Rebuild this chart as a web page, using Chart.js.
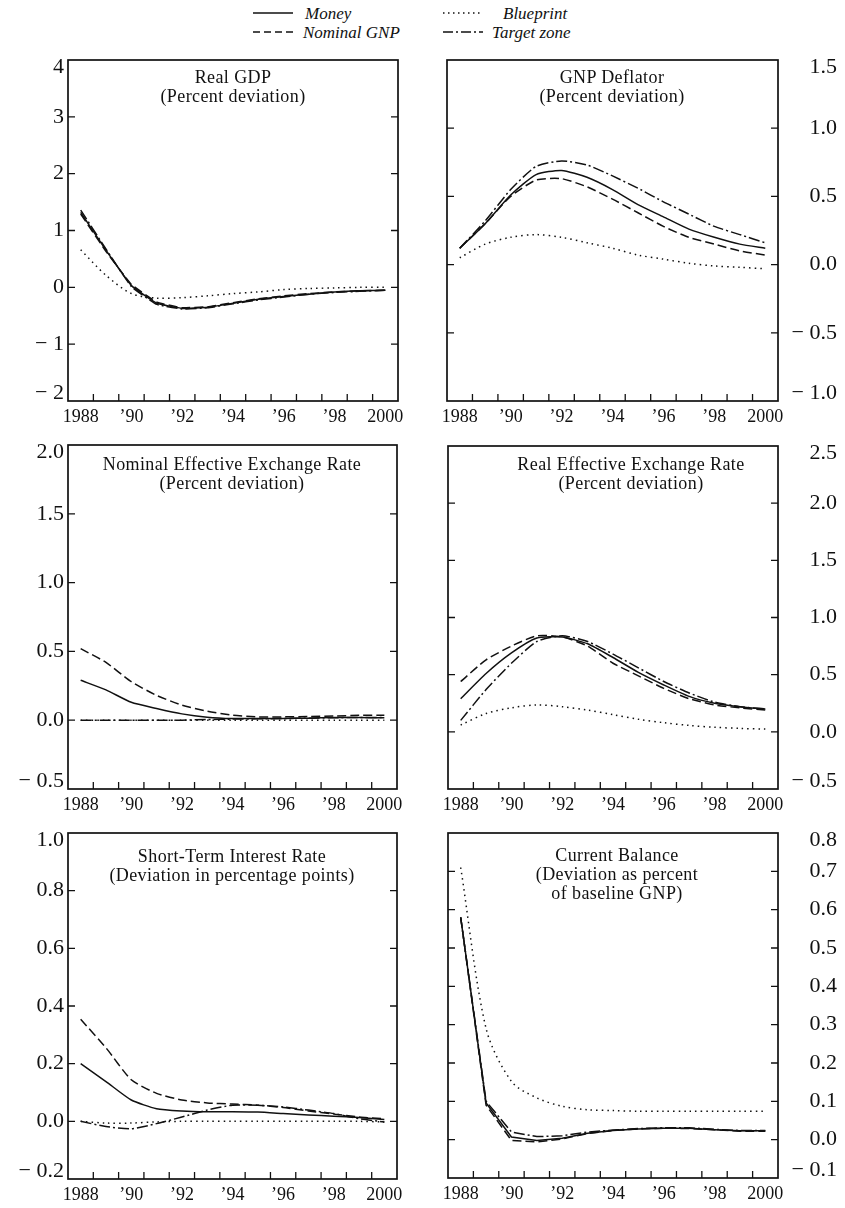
<!DOCTYPE html>
<html>
<head>
<meta charset="utf-8">
<script src="https://cdn.jsdelivr.net/npm/chart.js@4/dist/chart.umd.min.js"></script>
<style>
html,body{margin:0;padding:0;background:#fff;}
#page{position:relative;width:845px;height:1208px;overflow:hidden;background:#fff;font-family:"Liberation Serif","Times New Roman",serif;color:#111;}
.panel{position:absolute;}
.panel canvas{display:block;}
.ttl{position:absolute;text-align:center;font-size:18px;letter-spacing:0.4px;line-height:19px;white-space:nowrap;transform:translateX(-50%);}
.leg{position:absolute;font-style:italic;font-size:17px;line-height:19px;white-space:nowrap;}
#legsvg{position:absolute;left:250px;top:0;}
</style>
</head>
<body>
<div id="page">
  <svg id="legsvg" width="250" height="45" xmlns="http://www.w3.org/2000/svg">
    <line x1="3" y1="13" x2="43" y2="13" stroke="#111" stroke-width="1.6"/>
    <line x1="3" y1="32" x2="43" y2="32" stroke="#111" stroke-width="1.6" stroke-dasharray="7 4"/>
    <line x1="193" y1="13" x2="233" y2="13" stroke="#111" stroke-width="1.6" stroke-dasharray="1.5 3.5"/>
    <line x1="193" y1="32" x2="233" y2="32" stroke="#111" stroke-width="1.6" stroke-dasharray="10 3 2 3"/>
  </svg>
  <div class="leg" style="left:305px;top:4px;">Money</div>
  <div class="leg" style="left:303px;top:23px;">Nominal GNP</div>
  <div class="leg" style="left:503px;top:4px;">Blueprint</div>
  <div class="leg" style="left:492px;top:23px;">Target zone</div>
</div>
<script>
// ---------- DATA ----------
const years = ['1988','1989','1990','1991','1992','1993','1994','1995','1996','1997','1998','1999','2000'];
const yearTickLabels = ['1988','','\u201990','','\u201992','','\u201994','','\u201996','','\u201998','','2000'];

// Real GDP (percent deviation)
const gdpMoney     = [1.32, 0.65, 0.03, -0.28, -0.37, -0.35, -0.28, -0.21, -0.16, -0.12, -0.08, -0.06, -0.05];
const gdpNominal   = [1.29, 0.63, 0.05, -0.26, -0.36, -0.34, -0.27, -0.20, -0.15, -0.11, -0.08, -0.06, -0.05];
const gdpBlueprint = [0.66, 0.21, -0.11, -0.19, -0.18, -0.15, -0.11, -0.08, -0.04, -0.02, -0.01, 0.00, 0.00];
const gdpTarget    = [1.36, 0.67, 0.01, -0.30, -0.38, -0.36, -0.29, -0.22, -0.17, -0.12, -0.09, -0.07, -0.05];

// GNP deflator (percent deviation)
const defMoney     = [0.12, 0.30, 0.51, 0.66, 0.69, 0.64, 0.55, 0.44, 0.35, 0.26, 0.20, 0.15, 0.12];
const defNominal   = [0.12, 0.30, 0.50, 0.62, 0.63, 0.57, 0.48, 0.38, 0.28, 0.20, 0.15, 0.10, 0.07];
const defBlueprint = [0.05, 0.15, 0.20, 0.22, 0.20, 0.16, 0.12, 0.07, 0.04, 0.01, -0.01, -0.02, -0.03];
const defTarget    = [0.12, 0.32, 0.55, 0.72, 0.76, 0.73, 0.65, 0.56, 0.46, 0.37, 0.28, 0.22, 0.16];

// Nominal effective exchange rate (percent deviation)
const neerMoney     = [0.29, 0.22, 0.13, 0.085, 0.046, 0.022, 0.012, 0.012, 0.012, 0.015, 0.020, 0.020, 0.017];
const neerNominal   = [0.52, 0.42, 0.28, 0.18, 0.11, 0.065, 0.036, 0.024, 0.024, 0.027, 0.030, 0.036, 0.036];
const neerBlueprint = [0, 0, 0, 0, 0, 0, 0, 0, 0, 0, 0, 0, 0];
const neerTarget    = [0, 0, 0, 0, 0, 0.005, 0.008, 0.010, 0.012, 0.015, 0.018, 0.020, 0.020];

// Real effective exchange rate (percent deviation)
const reerMoney     = [0.29, 0.51, 0.69, 0.82, 0.83, 0.77, 0.65, 0.52, 0.41, 0.31, 0.25, 0.22, 0.20];
const reerNominal   = [0.44, 0.63, 0.75, 0.84, 0.83, 0.75, 0.60, 0.49, 0.38, 0.29, 0.235, 0.21, 0.19];
const reerBlueprint = [0.06, 0.16, 0.21, 0.235, 0.22, 0.19, 0.15, 0.11, 0.08, 0.056, 0.04, 0.03, 0.024];
const reerTarget    = [0.10, 0.37, 0.60, 0.79, 0.84, 0.79, 0.68, 0.56, 0.44, 0.34, 0.26, 0.22, 0.20];

// Short-term interest rate (deviation in percentage points)
const strMoney     = [0.20, 0.138, 0.074, 0.044, 0.036, 0.033, 0.033, 0.032, 0.027, 0.022, 0.018, 0.013, 0.006];
const strNominal   = [0.354, 0.255, 0.144, 0.097, 0.074, 0.064, 0.060, 0.056, 0.048, 0.036, 0.025, 0.015, 0.009];
const strBlueprint = [0, -0.006, -0.006, -0.002, 0, 0, 0, 0, 0, 0, 0, 0, -0.002];
const strTarget    = [0, -0.018, -0.026, -0.008, 0.015, 0.039, 0.056, 0.056, 0.050, 0.039, 0.027, 0.009, -0.002];

// Current balance (deviation as percent of baseline GNP)
const cbMoney     = [0.58, 0.096, 0.007, -0.002, 0.004, 0.017, 0.024, 0.028, 0.030, 0.030, 0.026, 0.023, 0.023];
const cbNominal   = [0.58, 0.090, -0.002, -0.006, 0.002, 0.016, 0.024, 0.028, 0.030, 0.029, 0.026, 0.022, 0.022];
const cbBlueprint = [0.71, 0.29, 0.152, 0.109, 0.087, 0.078, 0.076, 0.074, 0.074, 0.074, 0.074, 0.074, 0.074];
const cbTarget    = [0.58, 0.100, 0.020, 0.008, 0.010, 0.020, 0.025, 0.029, 0.031, 0.031, 0.027, 0.024, 0.024];

const seriesNames = ['Money', 'Nominal GNP', 'Blueprint', 'Target zone'];

// ---------- STYLES ----------
const INK = '#111';
const dashes = { 'Money': [], 'Nominal GNP': [9, 4], 'Blueprint': [1.5, 4], 'Target zone': [11, 3, 2, 3] };

const framePlugin = {
  id: 'frame',
  afterDraw(chart) {
    const { ctx, chartArea: a, scales } = chart;
    const L = 7;
    ctx.save();
    ctx.strokeStyle = INK;
    ctx.lineWidth = 1.7;
    ctx.setLineDash([]);
    ctx.strokeRect(a.left, a.top, a.right - a.left, a.bottom - a.top);
    ctx.lineWidth = 1.3;
    ctx.beginPath();
    const ys = scales.y;
    ys.ticks.forEach((t, i) => {
      const p = ys.getPixelForTick(i);
      if (Math.abs(p - a.top) < 2 || Math.abs(p - a.bottom) < 2) return;
      ctx.moveTo(a.left, p); ctx.lineTo(a.left + L, p);
      ctx.moveTo(a.right - L, p); ctx.lineTo(a.right, p);
    });
    const xs = scales.x;
    for (let i = 0; i < xs.ticks.length - 1; i++) {
      const p = (xs.getPixelForTick(i) + xs.getPixelForTick(i + 1)) / 2;
      ctx.moveTo(p, a.bottom); ctx.lineTo(p, a.bottom - L);
    }
    ctx.stroke();
    ctx.restore();
  }
};

function fmt(v, d) {
  if (Math.abs(v) < 1e-9) v = 0;
  const s = Math.abs(v).toFixed(d);
  return v < 0 ? '\u2212 ' + s : s;
}

const page = document.getElementById('page');

function makePanel(cfg) {
  const isRight = cfg.side === 'R';
  const cLeft = isRight ? 420 : 0;
  const cWidth = isRight ? 425 : 420;
  const padTop = 26, xH = 30;
  const cTop = cfg.top - padTop;
  const cHeight = cfg.bottom - cfg.top + padTop + xH;

  const wrap = document.createElement('div');
  wrap.className = 'panel';
  wrap.style.left = cLeft + 'px';
  wrap.style.top = cTop + 'px';
  wrap.style.width = cWidth + 'px';
  wrap.style.height = cHeight + 'px';
  const canvas = document.createElement('canvas');
  canvas.width = cWidth; canvas.height = cHeight;
  canvas.style.width = cWidth + 'px'; canvas.style.height = cHeight + 'px';
  wrap.appendChild(canvas);
  page.appendChild(wrap);

  const ttl = document.createElement('div');
  ttl.className = 'ttl';
  ttl.style.left = cfg.titleX + 'px';
  ttl.style.top = cfg.titleY + 'px';
  ttl.innerHTML = cfg.title.join('<br>');
  page.appendChild(ttl);

  const datasets = seriesNames.map((name, k) => ({
    label: name,
    data: cfg.series[k],
    borderColor: INK,
    backgroundColor: INK,
    borderWidth: 1.5,
    borderDash: dashes[name],
    pointRadius: 0,
    fill: false,
    tension: cfg.tension[k],
    order: k === 0 ? 0 : 1
  }));

  new Chart(canvas, {
    type: 'line',
    data: { labels: yearTickLabels, datasets },
    options: {
      responsive: false,
      animation: false,
      events: [],
      layout: { padding: { left: isRight ? cfg.left - 420 : 0, right: isRight ? 8 : 420 - cfg.right, top: padTop, bottom: 0 } },
      plugins: { legend: { display: false }, tooltip: { enabled: false }, title: { display: false } },
      scales: {
        x: {
          type: 'category',
          offset: true,
          grid: { display: false, drawTicks: false },
          border: { display: false },
          ticks: {
            autoSkip: false, maxRotation: 0, minRotation: 0, padding: 5, color: INK,
            font: { family: 'Liberation Serif', size: 18 }
          },
          afterFit(s) { s.height = xH; }
        },
        y: {
          type: 'linear',
          position: isRight ? 'right' : 'left',
          min: cfg.min, max: cfg.max,
          grid: { display: false, drawTicks: false },
          border: { display: false },
          ticks: {
            stepSize: cfg.step, padding: 4, color: INK,
            crossAlign: isRight ? 'far' : 'near',
            font: { family: 'Liberation Serif', size: 22, lineHeight: 0.67 },
            callback(v, i, ts) {
              const s = fmt(v, cfg.dec);
              if (i === 0) return [s, ''];
              if (i === ts.length - 1) return ['', s];
              return s;
            }
          },
          afterFit(s) { s.width = isRight ? (837 - cfg.right) : cfg.left; }
        }
      }
    },
    plugins: [framePlugin]
  });
}

const TS = [0.2, 0.2, 0.3, 0.2];

makePanel({ side: 'L', left: 68, top: 60, right: 398, bottom: 401, min: -2, max: 4, step: 1, dec: 0,
  title: ['Real GDP', '(Percent deviation)'], titleX: 233, titleY: 68,
  series: [gdpMoney, gdpNominal, gdpBlueprint, gdpTarget], tension: [0.1, 0.1, 0.3, 0.1] });
makePanel({ side: 'R', left: 447, top: 60, right: 778, bottom: 401, min: -1, max: 1.5, step: 0.5, dec: 1,
  title: ['GNP Deflator', '(Percent deviation)'], titleX: 612, titleY: 68,
  series: [defMoney, defNominal, defBlueprint, defTarget], tension: TS });
makePanel({ side: 'L', left: 68, top: 445, right: 397, bottom: 789, min: -0.5, max: 2.0, step: 0.5, dec: 1,
  title: ['Nominal Effective Exchange Rate', '(Percent deviation)'], titleX: 232, titleY: 455,
  series: [neerMoney, neerNominal, neerBlueprint, neerTarget], tension: TS });
makePanel({ side: 'R', left: 448, top: 446, right: 778, bottom: 789, min: -0.5, max: 2.5, step: 0.5, dec: 1,
  title: ['Real Effective Exchange Rate', '(Percent deviation)'], titleX: 631, titleY: 455,
  series: [reerMoney, reerNominal, reerBlueprint, reerTarget], tension: TS });
makePanel({ side: 'L', left: 68, top: 833, right: 397, bottom: 1179, min: -0.2, max: 1.0, step: 0.2, dec: 1,
  title: ['Short-Term Interest Rate', '(Deviation in percentage points)'], titleX: 232, titleY: 847,
  series: [strMoney, strNominal, strBlueprint, strTarget], tension: TS });
makePanel({ side: 'R', left: 448, top: 833, right: 778, bottom: 1178, min: -0.1, max: 0.8, step: 0.1, dec: 1,
  title: ['Current Balance', '(Deviation as percent', 'of baseline GNP)'], titleX: 617, titleY: 846,
  series: [cbMoney, cbNominal, cbBlueprint, cbTarget], tension: [0, 0, 0.3, 0] });
</script>
</body>
</html>
